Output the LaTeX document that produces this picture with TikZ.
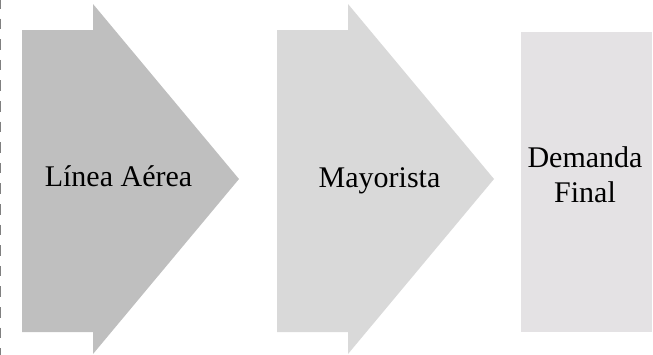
\documentclass[tikz,border=0pt]{standalone}
\usepackage{fontspec}
\setmainfont{Liberation Serif}
\definecolor{stageA}{RGB}{191,191,191}
\definecolor{stageB}{RGB}{217,217,217}
\definecolor{stageC}{RGB}{228,226,228}
\definecolor{sepgray}{RGB}{128,128,128}
\begin{document}
\begin{tikzpicture}[x=1bp,y=-1bp,
  lbl/.style={font=\fontsize{30bp}{35bp}\selectfont, inner sep=0pt, align=center, text=black}]
\useasboundingbox (0,0) rectangle (653,354);
% left separator
\draw[sepgray, line width=1.3bp, dash pattern=on 10.5bp off 10.1bp] (0.8,-2) -- (0.8,356);
% first stage arrow
\fill[stageA] (22,30) -- (93,30) -- (93,4) -- (239,179) -- (93,354) -- (93,332) -- (22,332) -- cycle;
% second stage arrow
\fill[stageB] (277,30) -- (348,30) -- (348,4) -- (494,179) -- (348,354) -- (348,332) -- (277,332) -- cycle;
% final block
\fill[stageC] (521,32) rectangle (652,332);
\node[lbl, anchor=base] (linea) at (118.5,186.7) {Línea Aérea};
\node[lbl, anchor=base] (mayor) at (379.5,187.3) {Mayorista};
\node[lbl, anchor=base] (demanda) at (585,167.7) {Demanda};
\node[lbl, anchor=base] (final) at (585,202.7) {Final};
\end{tikzpicture}
\end{document}
